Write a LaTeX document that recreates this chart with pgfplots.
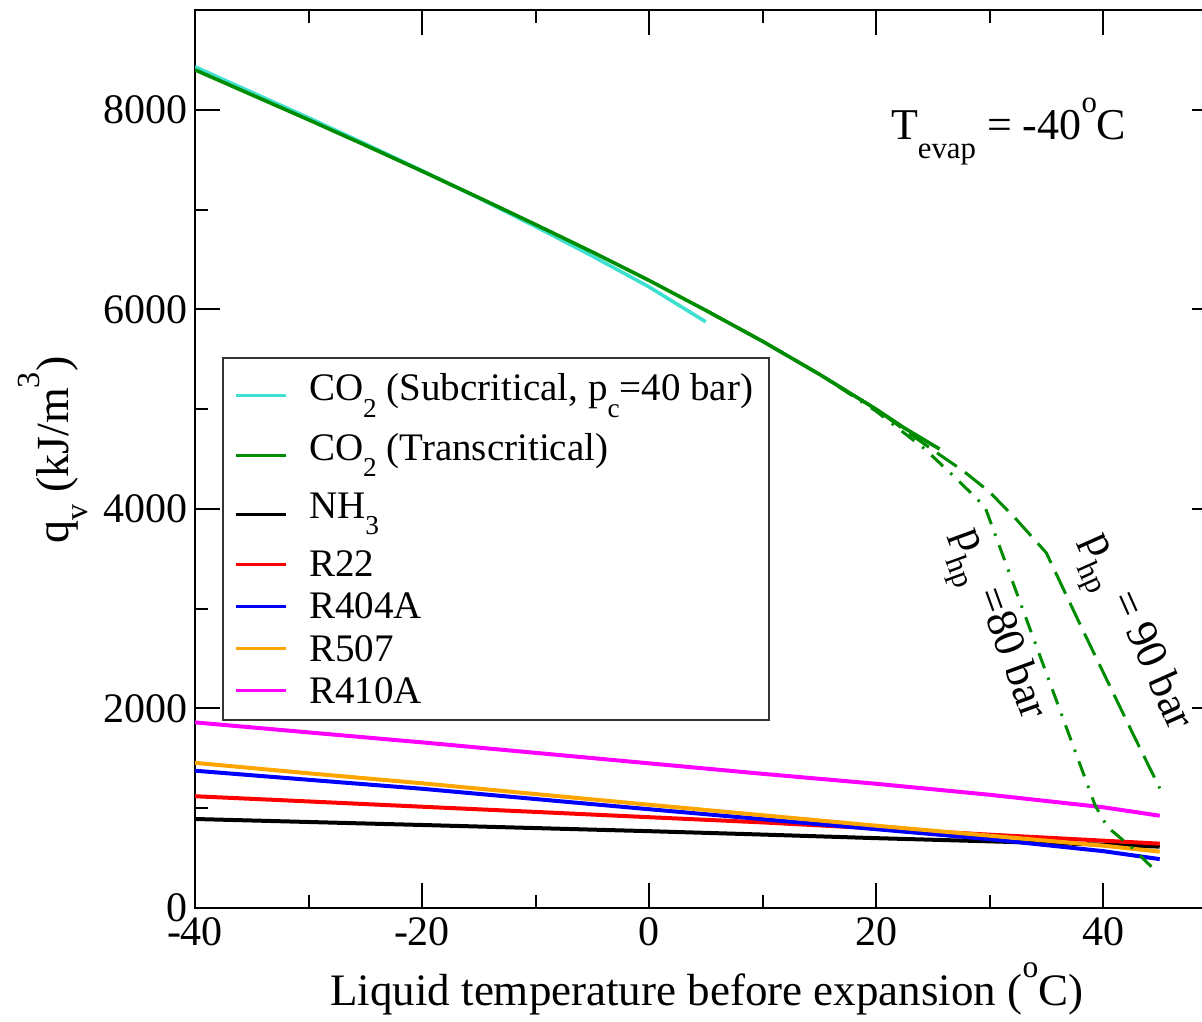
\documentclass[border=0pt]{standalone}
\usepackage{fontspec}
\setmainfont{Liberation Serif}
\usepackage{pgfplots}
\pgfplotsset{compat=1.18}

\definecolor{co2sub}{RGB}{64,224,208}
\definecolor{co2tc}{RGB}{0,140,0}
\definecolor{rorange}{RGB}{255,165,0}
\definecolor{rmagenta}{RGB}{255,0,255}
\definecolor{rred}{RGB}{255,0,0}
\definecolor{rblue}{RGB}{0,0,255}

% lowered / raised indices in the style of the plot labels
\newcommand{\sub}[1]{\raisebox{-0.42em}{\scalebox{0.7}{#1}}}
\newcommand{\sups}[1]{\raisebox{0.62em}{\scalebox{0.7}{#1}}}

\begin{document}
\begin{tikzpicture}
\useasboundingbox (0,0) rectangle (601pt,510.5pt);
\begin{axis}[
  at={(97.5pt,56.5pt)}, anchor=south west,
  scale only axis, width=510.75pt, height=449pt,
  xmin=-40, xmax=50, ymin=0, ymax=9000,
  xtick={-40,-20,0,20,40}, minor xtick={-30,-10,10,30},
  ytick={0,2000,4000,6000,8000}, minor ytick={1000,3000,5000,7000},
  tick align=inside, major tick length=12.5pt, minor tick length=6.5pt,
  every tick/.style={black, line width=1pt},
  axis line style={line width=1.4pt},
  /pgf/number format/assume math mode=true,
  /pgf/number format/1000 sep={},
  ticklabel style={font=\fontsize{21}{25}\selectfont},
  xticklabel style={yshift=-1.5pt},
  xlabel={Liquid temperature before expansion (\sups{o}C)},
  xlabel style={at={(axis description cs:0.501,-0.109)}, anchor=base, font=\fontsize{22.5}{27}\selectfont},
  ylabel={q\sub{v} (kJ/m\sups{3})},
  ylabel style={at={(axis description cs:-0.124,0.51)}, anchor=base, rotate=0, font=\fontsize{23}{27}\selectfont},
  legend style={at={(axis description cs:0.0264,0.6136)}, anchor=north west,
    draw=black!80, line width=0.8pt, fill=white,
    font=\fontsize{19.5}{23}\selectfont, row sep=4pt,
    inner xsep=6pt, inner ysep=6pt,
    nodes={text depth=, text height=}},
  legend cell align=left,
  legend image code/.code={\draw[#1, line width=1.5pt] (0pt,0pt) -- (25pt,0pt);
    \path (34pt,0pt);},
]

% refrigerants
\addplot[black, line width=2pt, forget plot] coordinates {
  (-40,892) (-30,862) (-20,832) (-10,801) (0,770) (10,736) (20,700) (30,668) (40,635) (45,615)};
\addplot[rred, line width=2pt, forget plot] coordinates {
  (-40,1120) (-30,1068) (-20,1015) (-10,963) (0,910) (10,858) (20,798) (30,735) (40,675) (45,645)};
\addplot[rblue, line width=2pt, forget plot] coordinates {
  (-40,1376) (-30,1285) (-20,1195) (-10,1092) (0,990) (10,890) (20,790) (30,690) (40,570) (45,490)};
\addplot[rorange, line width=2pt, forget plot] coordinates {
  (-40,1455) (-30,1350) (-20,1250) (-10,1142) (0,1035) (10,930) (20,825) (30,725) (40,625) (45,565)};
\addplot[rmagenta, line width=2pt, forget plot] coordinates {
  (-40,1860) (-30,1760) (-20,1660) (-10,1555) (0,1450) (10,1345) (20,1245) (30,1135) (40,1010) (45,925)};

% CO2 subcritical
\addplot[co2sub, line width=1.8pt, forget plot] coordinates {
  (-40,8430) (-35,8175) (-30,7920) (-25,7658) (-20,7390) (-15,7115) (-10,6830) (-5,6535) (0,6225) (5,5875)};
% CO2 transcritical, optimum pressure
\addplot[co2tc, line width=1.8pt, forget plot] coordinates {
  (-40,8400) (-35,8150) (-30,7900) (-25,7645) (-20,7385) (-15,7120) (-10,6850) (-5,6575) (0,6290) (5,5990) (10,5680) (15,5350) (20,5000) (22.5,4810) (25.6,4600)};
% CO2 transcritical, p_hp = 90 bar
\addplot[co2tc, line width=1.5pt, dash pattern=on 12pt off 5pt, forget plot] coordinates {
  (5,5990) (10,5680) (15,5350) (20,5000) (22.4,4800) (25,4590) (27.7,4380) (30,4170) (32.4,3890) (35,3560) (38.2,2790) (42.6,1754) (45,1200)};
% CO2 transcritical, p_hp = 80 bar
\addplot[co2tc, line width=1.5pt, dash pattern=on 8pt off 5pt on 1.2pt off 5pt, forget plot] coordinates {
  (5,5990) (10,5680) (15,5350) (20,4980) (24.3,4600) (27.2,4290) (29.6,4020) (39.3,1030) (40.4,810) (42.4,620) (44.3,410)};

\addlegendimage{co2sub}
\addlegendentry{CO\sub{2} (Subcritical, p\sub{c}=40 bar)}
\addlegendimage{co2tc}
\addlegendentry{CO\sub{2} (Transcritical)}
\addlegendimage{black}
\addlegendentry{NH\sub{3}}
\addlegendimage{rred}
\addlegendentry{R22}
\addlegendimage{rblue}
\addlegendentry{R404A}
\addlegendimage{rorange}
\addlegendentry{R507}
\addlegendimage{rmagenta}
\addlegendentry{R410A}

\node[anchor=base west, font=\fontsize{22}{26}\selectfont] at (axis cs:20.7,7699)
  {T\sub{evap} = -40\sups{o}C};
\node[rotate=-70, font=\fontsize{22}{26}\selectfont] at (axis cs:30.2,2817)
  {p\sub{hp} =80 bar};
\node[rotate=-66, font=\fontsize{22}{26}\selectfont] at (axis cs:42.4,2737)
  {p\sub{hp} = 90 bar};
\end{axis}
\end{tikzpicture}
\end{document}
